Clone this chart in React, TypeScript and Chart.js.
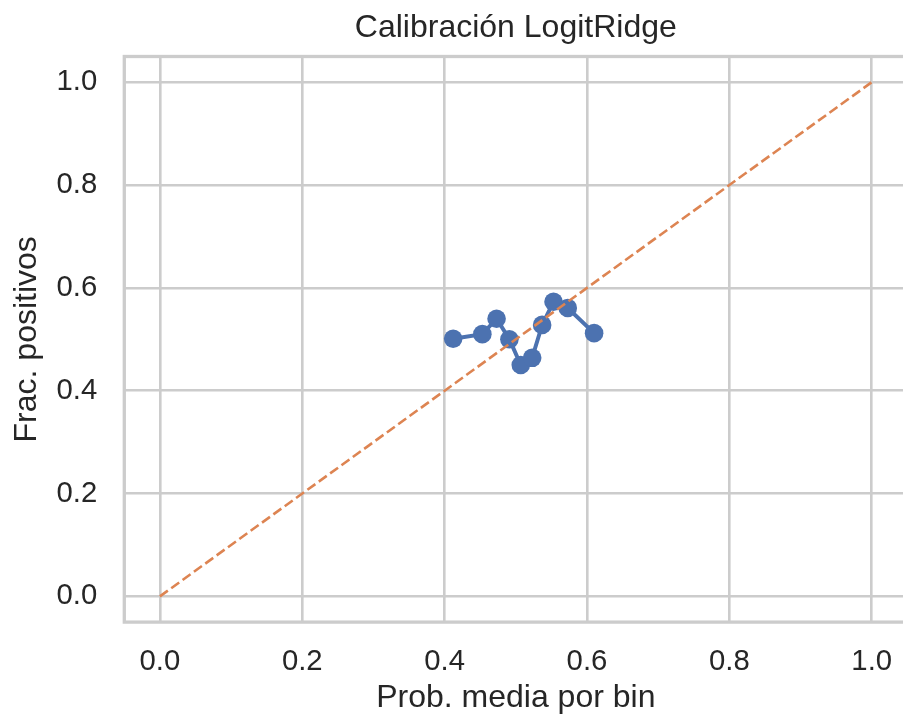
import { useEffect, useRef } from "react";
import { Chart, registerables } from "chart.js";

Chart.register(...registerables);

// Calibration curve: mean predicted probability per bin vs. observed fraction of positives
const binMeanProb = [0.412, 0.453, 0.473, 0.491, 0.507, 0.523, 0.537, 0.553, 0.573, 0.61];
const fracPositives = [0.501, 0.51, 0.54, 0.5, 0.45, 0.464, 0.528, 0.573, 0.561, 0.512];

// Perfect-calibration reference line
const diagonalX = [0, 1];
const diagonalY = [0, 1];

const tickValues = [0, 0.2, 0.4, 0.6, 0.8, 1.0];
const axisMin = -0.05;
const axisMax = 1.05;

const titleText = "Calibración LogitRidge";
const xLabel = "Prob. media por bin";
const yLabel = "Frac. positivos";

const FONT = "'Liberation Sans', Arial, Helvetica, sans-serif";
const TEXT = "#262626";
const GRID = "#cccccc";
const BLUE = "#4c72b0";
const ORANGE = "#dd8452";

const CANVAS_W = 919;
const CANVAS_H = 718;

const spinesPlugin = {
  id: "spines",
  afterDatasetsDraw(chart: any) {
    const { ctx, chartArea: a } = chart;
    ctx.save();
    ctx.strokeStyle = GRID;
    ctx.lineWidth = 3.3;
    ctx.strokeRect(a.left, a.top, a.right - a.left, a.bottom - a.top);
    ctx.restore();
  },
};

export default function App() {
  const canvasRef = useRef<HTMLCanvasElement | null>(null);

  useEffect(() => {
    const canvas = canvasRef.current;
    if (!canvas) return;

    const curve = binMeanProb.map((x, i) => ({ x, y: fracPositives[i] }));
    const diagonal = diagonalX.map((x, i) => ({ x, y: diagonalY[i] }));

    const setTicks = (scale: any) => {
      scale.ticks = tickValues.map((value) => ({ value }));
    };

    const chart = new Chart(canvas, {
      type: "scatter",
      data: {
        datasets: [
          {
            label: "diagonal",
            data: diagonal,
            showLine: true,
            borderColor: ORANGE,
            borderWidth: 2.6,
            borderDash: [9.8, 4.2],
            pointRadius: 0,
            order: 0,
          },
          {
            label: "LogitRidge",
            data: curve,
            showLine: true,
            borderColor: BLUE,
            backgroundColor: BLUE,
            borderWidth: 4,
            pointRadius: 9.3,
            pointBorderWidth: 0,
            pointBackgroundColor: BLUE,
            order: 1,
          },
        ],
      },
      options: {
        responsive: false,
        animation: false,
        layout: { padding: { left: 0, right: 11.7, top: 0, bottom: 0 } },
        plugins: {
          legend: { display: false },
          tooltip: { enabled: false },
          title: {
            display: true,
            text: titleText,
            fullSize: false,
            color: TEXT,
            font: { family: FONT, size: 32, weight: "normal" },
            padding: { top: 9, bottom: 9.1 },
          },
        },
        scales: {
          x: {
            type: "linear",
            min: axisMin,
            max: axisMax,
            afterBuildTicks: setTicks,
            afterFit: (scale: any) => {
              scale.height = 95.9;
            },
            grid: { color: GRID, lineWidth: 2.6, drawTicks: false },
            border: { display: false },
            ticks: {
              color: TEXT,
              padding: 22,
              font: { family: FONT, size: 29.3 },
              callback: (v: any) => Number(v).toFixed(1),
            },
            title: {
              display: true,
              text: xLabel,
              color: TEXT,
              font: { family: FONT, size: 32 },
              padding: { top: 0, bottom: 0.4 },
            },
          },
          y: {
            type: "linear",
            min: axisMin,
            max: axisMax,
            afterBuildTicks: setTicks,
            afterFit: (scale: any) => {
              scale.width = 124.3;
            },
            grid: { color: GRID, lineWidth: 2.6, drawTicks: false },
            border: { display: false },
            ticks: {
              color: TEXT,
              padding: 27,
              font: { family: FONT, size: 29.3 },
              callback: (v: any) => Number(v).toFixed(1),
            },
            title: {
              display: true,
              text: yLabel,
              color: TEXT,
              font: { family: FONT, size: 32 },
              padding: { top: 8.3, bottom: 0 },
            },
          },
        },
      },
      plugins: [spinesPlugin],
    });

    return () => chart.destroy();
  }, []);

  return (
    <div
      style={{
        position: "fixed",
        left: 0,
        top: 0,
        width: 903,
        height: 718,
        overflow: "hidden",
        background: "#ffffff",
      }}
    >
      <canvas
        ref={canvasRef}
        width={CANVAS_W}
        height={CANVAS_H}
        style={{ display: "block", width: CANVAS_W, height: CANVAS_H }}
      />
    </div>
  );
}
